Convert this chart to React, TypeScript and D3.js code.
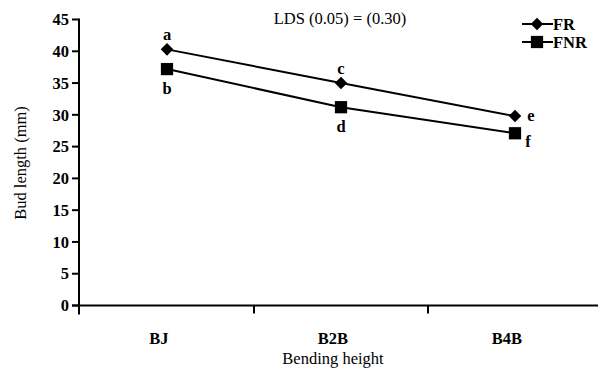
import React from "react";
import * as d3 from "d3";

// chart data
const categories = ["BJ", "B2B", "B4B"];
const frValues = [40.3, 35.0, 29.8];
const fnrValues = [37.2, 31.2, 27.1];
const frLetters = ["a", "c", "e"];
const fnrLetters = ["b", "d", "f"];
const yTicks = [0, 5, 10, 15, 20, 25, 30, 35, 40, 45];

const serif = "'Liberation Serif', 'Times New Roman', Times, 'DejaVu Serif', serif";

export default function App() {
    const width = 598;
    const height = 372;
    const margin = { top: 19.5, right: -4, bottom: 66.5, left: 79 };
    const fs = 16.5;

    const x = d3
        .scaleBand()
        .domain(categories)
        .range([margin.left + 1, width - margin.right])
        .paddingInner(0)
        .paddingOuter(0);
    const y = d3
        .scaleLinear()
        .domain([0, 45])
        .range([height - margin.bottom, margin.top]);

    const cx = (c: string) => (x(c) as number) + x.bandwidth() / 2;

    const line = d3
        .line<number>()
        .x((d, i) => cx(categories[i]))
        .y((d) => y(d));

    const diamond = d3.symbol().type(d3.symbolDiamond2).size(100);
    const square = d3.symbol().type(d3.symbolSquare).size(150);

    const y0 = y(0);
    const xTickPositions = [margin.left, ...categories.slice(1).map((c) => x(c) as number)];

    return (
        <svg
            width={width}
            height={height}
            style={{ position: "absolute", left: 0, top: 0, background: "#fff", fontFamily: serif }}
        >
            {/* y axis */}
            <line x1={margin.left} x2={margin.left} y1={y(45) - 1} y2={y0 + 9} stroke="#000" strokeWidth={2} />
            {yTicks.map((t) => (
                <g key={"yt" + t}>
                    <line x1={margin.left - 7} x2={margin.left} y1={y(t)} y2={y(t)} stroke="#000" strokeWidth={2} />
                    <text
                        x={margin.left - 10}
                        y={y(t)}
                        dy="0.35em"
                        textAnchor="end"
                        fontSize={fs}
                        fontWeight="bold"
                    >
                        {t}
                    </text>
                </g>
            ))}
            {/* x axis */}
            <line x1={margin.left - 7} x2={width} y1={y0} y2={y0} stroke="#000" strokeWidth={2} />
            {xTickPositions.map((p, i) => (
                <line key={"xt" + i} x1={p} x2={p} y1={y0} y2={y0 + 8} stroke="#000" strokeWidth={2} />
            ))}
            {categories.map((c) => (
                <text key={"xl" + c} x={cx(c) - 8} y={344} textAnchor="middle" fontSize={fs} fontWeight="bold">
                    {c}
                </text>
            ))}
            <text x={333} y={364} textAnchor="middle" fontSize={fs}>
                Bending height
            </text>
            <text transform={`translate(26,163) rotate(-90)`} textAnchor="middle" fontSize={fs}>
                Bud length (mm)
            </text>
            <text x={340} y={24} textAnchor="middle" fontSize={fs}>
                LDS (0.05) = (0.30)
            </text>

            {/* series */}
            <path d={line(frValues) as string} fill="none" stroke="#000" strokeWidth={2} />
            <path d={line(fnrValues) as string} fill="none" stroke="#000" strokeWidth={2} />
            {frValues.map((v, i) => (
                <path
                    key={"fr" + i}
                    d={diamond() as string}
                    transform={`translate(${cx(categories[i])},${y(v)})`}
                    fill="#000"
                />
            ))}
            {fnrValues.map((v, i) => (
                <path
                    key={"fnr" + i}
                    d={square() as string}
                    transform={`translate(${cx(categories[i])},${y(v)})`}
                    fill="#000"
                />
            ))}

            {/* significance letters */}
            {frLetters.map((l, i) => {
                const px = cx(categories[i]);
                const py = y(frValues[i]);
                const last = i === categories.length - 1;
                return (
                    <text
                        key={"frl" + i}
                        x={last ? px + 16 : px}
                        y={last ? py + 5 : py - 9}
                        textAnchor="middle"
                        fontSize={fs}
                        fontWeight="bold"
                    >
                        {l}
                    </text>
                );
            })}
            {fnrLetters.map((l, i) => {
                const px = cx(categories[i]);
                const py = y(fnrValues[i]);
                const last = i === categories.length - 1;
                return (
                    <text
                        key={"fnrl" + i}
                        x={last ? px + 13 : px}
                        y={last ? py + 14 : py + 25}
                        textAnchor="middle"
                        fontSize={fs}
                        fontWeight="bold"
                    >
                        {l}
                    </text>
                );
            })}

            {/* legend */}
            <g>
                <line x1={522} x2={553} y1={24} y2={24} stroke="#000" strokeWidth={2} />
                <path d={diamond() as string} transform="translate(537,24)" fill="#000" />
                <text x={553} y={24} dy="0.35em" fontSize={fs} fontWeight="bold">
                    FR
                </text>
                <line x1={522} x2={553} y1={42} y2={42} stroke="#000" strokeWidth={2} />
                <path d={square() as string} transform="translate(537,42)" fill="#000" />
                <text x={553} y={42} dy="0.35em" fontSize={fs} fontWeight="bold">
                    FNR
                </text>
            </g>
        </svg>
    );
}
